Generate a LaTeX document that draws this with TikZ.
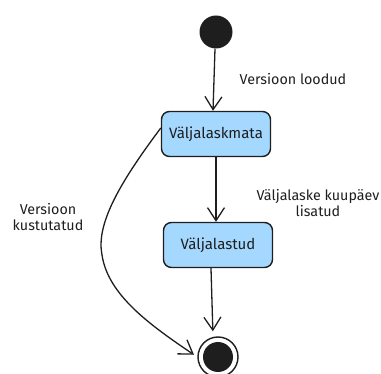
\documentclass[tikz,border=0pt]{standalone}
\usepackage{fontspec}
\setmainfont{Fira Sans}
\usetikzlibrary{arrows.meta}
\definecolor{ink}{HTML}{1E1E1E}
\definecolor{statefill}{HTML}{A5D8FF}
\tikzset{
  statebox/.style={draw=ink, fill=statefill, line width=1.4pt, rounded corners=8pt,
    minimum width=109pt, minimum height=45pt, inner sep=0pt, font=\fontsize{15}{17}\selectfont, text=ink},
  trans/.style={draw=ink, line width=1.3pt, -{Straight Barb[length=13pt, width=17pt, line width=1.3pt]}},
  lbl/.style={font=\fontsize{14.3}{15.5}\selectfont, text=ink, align=center, inner sep=0pt}
}
\begin{document}
\begin{tikzpicture}[x=1pt, y=-1pt]
\useasboundingbox (0,0) rectangle (381,374);
% initial and final pseudo-states
\node[circle, fill=ink, minimum size=33pt, inner sep=0pt] (start) at (216,32) {};
\node[circle, draw=ink, line width=1.4pt, fill=white, minimum size=40pt, inner sep=0pt] (final) at (218,357) {};
\node[circle, fill=ink, minimum size=30pt, inner sep=0pt] (finalcore) at (final) {};
% states
\node[statebox] (b1) at (216,134) {Väljalaskmata};
\node[statebox] (b2) at (218,245) {Väljalastud};
% transitions
\draw[trans] ([xshift=-1pt]start.south) -- ([xshift=-3pt]b1.north);
\draw[trans] (b1.south) -- ([xshift=-2pt]b2.north);
\draw[trans, shorten >=5pt] ([xshift=-7pt]b2.south) -- ([xshift=-5pt]final.north);
\draw[trans, shorten >=4pt] ([yshift=6pt]b1.west) .. controls (118,185) and (96,225) .. (102,255)
  .. controls (108,295) and (150,325) .. (final.west);
% labels
\node[lbl] (l1) at (293,79) {Versioon loodud};
\node[lbl] (l2) at (318,203) {Väljalaske kuupäev\\lisatud};
\node[lbl] (l3) at (48,217) {Versioon\\kustutatud};
\end{tikzpicture}
\end{document}
